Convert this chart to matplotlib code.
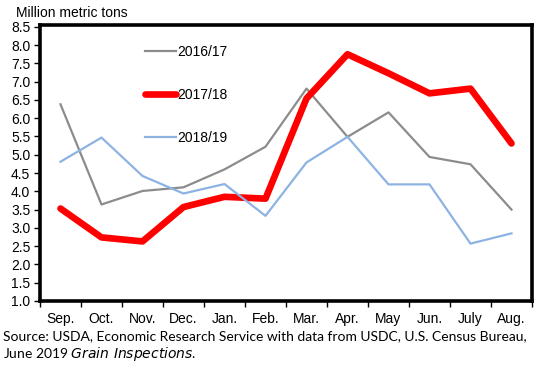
import matplotlib
matplotlib.use("Agg")
import matplotlib.pyplot as plt

# Monthly values, million metric tons
months = ["Sep.", "Oct.", "Nov.", "Dec.", "Jan.", "Feb.", "Mar.", "Apr.", "May", "Jun.", "July", "Aug."]
y1617 = [6.38, 3.64, 4.01, 4.11, 4.60, 5.22, 6.81, 5.49, 6.16, 4.94, 4.74, 3.50]
y1718 = [3.53, 2.74, 2.63, 3.57, 3.85, 3.80, 6.54, 7.75, 7.23, 6.68, 6.81, 5.31]
y1819 = [4.81, 5.47, 4.42, 3.94, 4.20, 3.33, 4.79, 5.49, 4.19, 4.19, 2.57, 2.85]
yticks = [1.0, 1.5, 2.0, 2.5, 3.0, 3.5, 4.0, 4.5, 5.0, 5.5, 6.0, 6.5, 7.0, 7.5, 8.0, 8.5]

plt.rcParams['font.family'] = ['Liberation Sans', 'DejaVu Sans']

fig = plt.figure(figsize=(5.43, 3.68), dpi=100)
ax = fig.add_axes([40/543, 1-301/368, 492/543, 276/368])

x = range(len(months))
ax.plot(x, y1617, color="#8c8c8c", lw=1.6, label="2016/17")
ax.plot(x, y1718, color="#ff0000", lw=4.8, label="2017/18", solid_capstyle="round")
ax.plot(x, y1819, color="#8db3e2", lw=1.6, label="2018/19")

ax.set_xlim(-0.5, len(months) - 0.5)
ax.set_ylim(1.0, 8.55)
ax.set_yticks(yticks)
ax.set_yticklabels(["%.1f" % v for v in yticks], fontsize=10)

# ticks on category edges, labels in the middle
ax.set_xticks([i - 0.5 for i in range(len(months) + 1)])
ax.set_xticklabels([])
ax.set_xticks(list(x), minor=True)
ax.set_xticklabels(months, minor=True, fontsize=10)
ax.tick_params(axis="x", which="minor", length=0, pad=8)
ax.tick_params(axis="x", which="major", length=4, width=1, direction="out")
ax.tick_params(axis="y", length=4, width=1, direction="out", pad=3)

for s in ax.spines.values():
    s.set_linewidth(2.6)

ax.legend(loc="upper left", bbox_to_anchor=(145/543, 1-45/368), bbox_transform=fig.transFigure,
          frameon=False, fontsize=10, handlelength=2.2, handletextpad=0.15,
          labelspacing=2.1, borderpad=0, borderaxespad=0)

fig.text(16/543, 1-13/368, "Million metric tons", fontsize=10, va="center", ha="left")

fig.text(3/543, 1-336/368, "Source: USDA, Economic Research Service with data from USDC, U.S. Census Bureau,",
         fontsize=10, va="center", ha="left", family=["Lato", "DejaVu Sans"])
fig.text(3/543, 1-354/368, "June 2019 $\\it{Grain\\ Inspections}$.",
         fontsize=10, va="center", ha="left", family=["Lato", "DejaVu Sans"])

fig.savefig("out.png", dpi=100)
